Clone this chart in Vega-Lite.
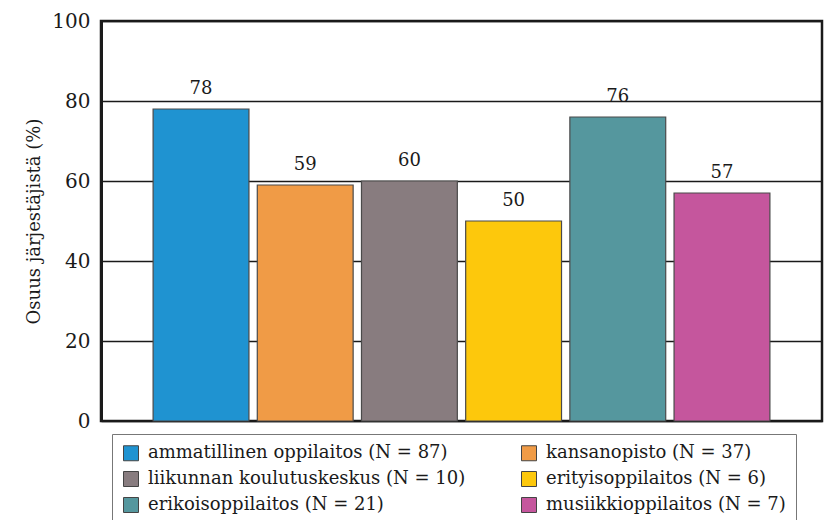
{
  "$schema": "https://vega.github.io/schema/vega-lite/v6.json",
  "width": 721,
  "height": 400,
  "autosize": {"type": "none"},
  "padding": {"left": 101, "top": 21, "right": 2, "bottom": 99},
  "background": "white",
  "config": {
    "font": "DejaVu Serif",
    "view": {"stroke": "#1a1a1a", "strokeWidth": 2.5}
  },
  "data": {
    "values": [
      {"ryhma": "ammatillinen oppilaitos (N = 87)", "arvo": 78},
      {"ryhma": "kansanopisto (N = 37)", "arvo": 59},
      {"ryhma": "liikunnan koulutuskeskus (N = 10)", "arvo": 60},
      {"ryhma": "erityisoppilaitos (N = 6)", "arvo": 50},
      {"ryhma": "erikoisoppilaitos (N = 21)", "arvo": 76},
      {"ryhma": "musiikkioppilaitos (N = 7)", "arvo": 57}
    ]
  },
  "encoding": {
    "x": {
      "field": "ryhma",
      "type": "nominal",
      "sort": null,
      "scale": {"paddingInner": 0.08, "paddingOuter": 0.5},
      "axis": null
    },
    "y": {
      "field": "arvo",
      "type": "quantitative",
      "scale": {"domain": [0, 100], "nice": false},
      "axis": {
        "values": [0, 20, 40, 60, 80, 100],
        "title": "Osuus järjestäjistä (%)",
        "titleFont": "DejaVu Serif",
        "titleFontSize": 18,
        "titleFontWeight": "normal",
        "titleColor": "#1a1a1a",
        "titlePadding": 8,
        "labelFont": "DejaVu Serif",
        "labelFontSize": 20,
        "labelColor": "#1a1a1a",
        "labelPadding": 11,
        "ticks": false,
        "domainColor": "#1a1a1a",
        "domainWidth": 3,
        "grid": true,
        "gridColor": "#1a1a1a",
        "gridWidth": 1.6
      }
    }
  },
  "layer": [
    {
      "mark": {"type": "bar", "stroke": "#4a4a4a", "strokeWidth": 1.2},
      "encoding": {
        "color": {
          "field": "ryhma",
          "type": "nominal",
          "sort": null,
          "scale": {
            "range": ["#1f93d1", "#f09b46", "#887c7f", "#fdc80c", "#55979e", "#c5569d"]
          },
          "legend": {
            "title": null,
            "orient": "none",
            "legendX": 11,
            "legendY": 413,
            "direction": "horizontal",
            "columns": 2,
            "columnPadding": 53,
            "rowPadding": 6,
            "symbolType": "square",
            "symbolSize": 225,
            "symbolStrokeColor": "#444",
            "symbolStrokeWidth": 1,
            "symbolOpacity": 1,
            "labelFont": "DejaVu Serif",
            "labelFontSize": 18,
            "labelColor": "#1a1a1a",
            "labelLimit": 400,
            "labelOffset": 8,
            "fillColor": "white",
            "strokeColor": "#777",
            "padding": 10
          }
        }
      }
    },
    {
      "mark": {"type": "text", "baseline": "bottom", "dy": -11, "font": "DejaVu Serif", "fontSize": 18, "color": "#1a1a1a"},
      "encoding": {"text": {"field": "arvo", "type": "quantitative"}}
    }
  ]
}
